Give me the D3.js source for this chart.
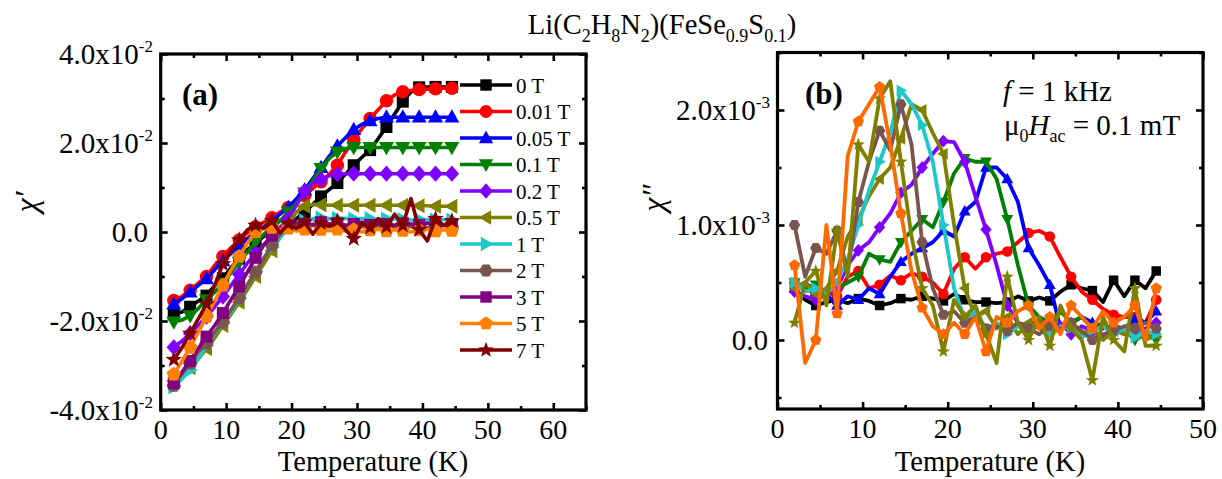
<!DOCTYPE html>
<html>
<head>
<meta charset="utf-8">
<script src="https://cdn.jsdelivr.net/npm/d3@7"></script>
<style>
  body { margin: 0; background: #fff; }
  svg text { font-family: "Liberation Serif", "Times New Roman", Times, serif; fill: #000; }
</style>
</head>
<body>
<svg id="chart" width="1222" height="479" font-family="Liberation Serif, Times New Roman, serif"></svg>
<script>
// Temperature grid shared by every measured curve (K)
const temperature = [2, 3.25, 4.5, 5.75, 7, 8.25, 9.5, 10.75, 12, 13.25, 14.5, 15.75, 17, 18.25,
  19.5, 20.75, 22, 23.25, 24.5, 25.75, 27, 28.25, 29.5, 30.75, 32, 33.25, 34.5, 35.75, 37,
  38.25, 39.5, 40.75, 42, 43.25, 44.5];

// (a) real part chi' in units of 10^-2, one array per applied DC field
const fieldsA = ["0 T", "0.01 T", "0.05 T", "0.1 T", "0.2 T", "0.5 T", "1 T", "2 T", "3 T", "5 T", "7 T"];
const chiReal0T   = [-1.85,-1.80,-1.68,-1.55,-1.43,-1.20,-1.04,-0.80,-0.60,-0.40,-0.25,-0.10,0.00,0.08,0.15,0.30,0.45,0.62,0.80,0.95,1.10,1.30,1.50,1.68,1.84,2.10,2.36,2.65,2.93,3.15,3.25,3.26,3.26,3.26,3.26];
const chiReal001T = [-1.54,-1.45,-1.31,-1.15,-1.00,-0.75,-0.55,-0.35,-0.18,-0.02,0.12,0.22,0.32,0.45,0.55,0.68,0.82,0.98,1.13,1.30,1.50,1.80,2.08,2.32,2.55,2.75,2.95,3.08,3.15,3.18,3.20,3.21,3.22,3.23,3.23];
const chiReal005T = [-1.62,-1.50,-1.35,-1.20,-1.05,-0.85,-0.65,-0.48,-0.30,-0.15,0.00,0.12,0.25,0.40,0.55,0.75,0.95,1.20,1.45,1.70,1.93,2.12,2.30,2.42,2.50,2.55,2.58,2.58,2.58,2.58,2.58,2.58,2.58,2.58,2.58];
const chiReal01T  = [-2.02,-1.98,-1.88,-1.72,-1.52,-1.35,-1.15,-0.92,-0.68,-0.45,-0.22,-0.05,0.10,0.25,0.45,0.65,0.88,1.15,1.43,1.65,1.80,1.87,1.90,1.90,1.90,1.90,1.90,1.90,1.90,1.90,1.90,1.90,1.90,1.90,1.90];
const chiReal02T  = [-2.59,-2.45,-2.28,-2.10,-1.90,-1.68,-1.45,-1.20,-0.95,-0.70,-0.48,-0.28,-0.10,0.10,0.30,0.60,0.92,1.08,1.18,1.26,1.30,1.31,1.31,1.31,1.31,1.31,1.31,1.31,1.31,1.31,1.31,1.31,1.31,1.31,1.31];
const chiReal05T  = [-3.35,-3.20,-3.05,-2.85,-2.62,-2.38,-2.10,-1.85,-1.58,-1.30,-1.00,-0.72,-0.42,-0.12,0.18,0.45,0.58,0.62,0.61,0.60,0.60,0.60,0.60,0.60,0.60,0.60,0.60,0.60,0.60,0.60,0.59,0.59,0.58,0.58,0.58];
const chiReal1T   = [-3.48,-3.30,-3.10,-2.85,-2.55,-2.28,-2.05,-1.80,-1.50,-1.20,-0.88,-0.58,-0.35,-0.12,0.08,0.18,0.25,0.30,0.32,0.30,0.30,0.31,0.29,0.30,0.30,0.28,0.29,0.30,0.28,0.27,0.28,0.28,0.27,0.28,0.27];
const chiReal2T   = [-3.45,-3.18,-2.95,-2.70,-2.50,-2.25,-2.02,-1.75,-1.48,-1.18,-0.90,-0.60,-0.30,-0.05,0.10,0.15,0.12,0.18,0.10,0.15,0.12,0.08,0.16,0.12,0.10,0.14,0.12,0.10,0.15,0.12,0.14,0.10,0.12,0.15,0.12];
const chiReal3T   = [-3.40,-3.15,-2.90,-2.62,-2.35,-2.10,-1.82,-1.52,-1.22,-0.90,-0.58,-0.30,-0.08,0.08,0.15,0.20,0.18,0.15,0.22,0.18,0.20,0.15,0.18,0.22,0.16,0.20,0.18,0.15,0.20,0.18,0.16,0.20,0.18,0.15,0.18];
const chiReal5T   = [-3.20,-2.90,-2.60,-2.25,-1.90,-1.55,-1.20,-0.85,-0.55,-0.25,0.00,0.08,0.10,0.05,0.08,0.02,0.06,0.00,0.05,0.03,0.06,0.02,0.05,0.00,0.04,0.06,0.02,0.05,0.03,0.00,0.04,0.06,0.02,0.05,0.03];
const chiReal7T   = [-2.87,-2.60,-2.28,-1.95,-1.62,-1.20,-0.72,-0.40,-0.18,0.05,0.15,0.08,0.25,-0.02,0.18,0.08,0.22,-0.05,0.20,0.12,0.25,0.05,-0.15,0.20,0.10,0.30,0.12,0.40,0.15,0.75,0.05,-0.20,0.30,0.15,0.25];

// (b) imaginary part chi'' in units of 10^-3
const fieldsB = ["0 T", "0.01 T", "0.05 T", "0.1 T", "0.2 T", "0.5 T", "1 T", "2 T", "3 T", "5 T"];
const chiImag0T   = [0.45,0.35,0.30,0.33,0.35,0.32,0.36,0.34,0.30,0.32,0.36,0.35,0.38,0.36,0.34,0.40,0.35,0.33,0.33,0.32,0.33,0.38,0.34,0.37,0.34,0.42,0.48,0.45,0.43,0.33,0.52,0.38,0.52,0.45,0.60];
const chiImag001T = [0.50,0.45,0.40,0.42,0.38,0.55,0.60,0.45,0.48,0.56,0.52,0.58,0.55,0.50,0.40,0.62,0.72,0.62,0.72,0.75,0.77,0.85,0.93,0.95,0.90,0.72,0.55,0.42,0.35,0.27,0.22,0.20,0.20,0.15,0.35];
const chiImag005T = [0.45,0.50,0.42,0.40,0.30,0.38,0.35,0.45,0.40,0.55,0.68,0.75,0.80,0.85,0.95,0.90,1.12,1.20,1.50,1.50,1.40,1.20,0.80,0.65,0.48,0.10,0.15,0.20,0.15,0.10,0.12,0.10,0.18,0.15,0.25];
const chiImag01T  = [0.50,0.45,0.48,0.40,0.45,0.50,0.55,0.75,0.70,0.68,0.85,0.95,1.05,0.98,1.20,1.45,1.58,1.55,1.55,1.40,1.05,0.65,0.30,0.20,0.15,0.25,0.15,0.20,0.10,0.15,0.05,0.10,0.00,0.05,0.00];
const chiImag02T  = [0.42,0.38,0.35,0.40,0.45,0.65,0.78,0.85,0.98,1.10,1.28,1.35,1.50,1.62,1.73,1.72,1.55,1.25,0.96,0.65,0.30,0.15,0.12,0.18,0.10,0.15,0.05,0.12,0.08,0.02,0.10,0.05,0.08,0.10,0.15];
const chiImag05T  = [0.45,0.50,0.40,0.45,0.60,0.90,1.05,1.25,1.40,1.50,1.75,2.05,2.00,1.80,1.62,1.00,0.45,0.20,0.25,0.10,0.20,0.05,0.15,0.10,0.05,0.10,0.12,0.05,0.10,0.00,0.08,0.05,0.10,0.00,0.05];
const chiImag1T   = [0.50,0.42,0.45,0.40,0.50,0.70,1.00,1.30,1.55,1.80,2.17,2.05,1.87,1.55,1.00,0.45,0.18,0.25,0.10,0.15,0.05,0.12,0.08,0.15,0.05,0.12,0.10,0.02,0.08,0.12,0.05,0.10,0.02,0.08,0.05];
const chiImag2T   = [1.00,0.55,0.80,0.75,0.95,0.60,1.20,1.55,1.82,1.65,2.05,1.70,0.85,0.45,0.22,0.25,0.15,0.20,0.10,0.12,0.08,0.15,0.10,0.05,0.12,0.10,0.15,0.08,0.00,0.05,0.08,0.12,0.10,0.15,0.10];
const chiImag3T   = [0.15,0.50,0.60,0.30,0.95,0.55,1.70,1.55,2.10,2.25,1.55,0.90,0.45,0.30,-0.10,0.35,0.20,0.30,0.05,-0.20,0.55,0.15,0.00,0.20,-0.05,0.30,0.10,0.00,-0.35,0.20,0.00,-0.10,0.45,-0.05,-0.05];
const chiImag5T   = [0.65,-0.20,0.00,1.00,0.23,1.60,1.90,2.05,2.20,1.70,1.10,0.60,0.28,0.12,0.05,0.15,0.05,0.20,-0.10,0.20,0.15,0.25,0.30,0.10,0.20,0.05,0.30,0.20,0.10,0.25,0.15,0.20,0.30,0.00,0.45];

// Axis ticks
const xTicksMajor = [0, 10, 20, 30, 40, 50, 60];
const xTicksMinorA = [5, 15, 25, 35, 45, 55, 65];
const yTicksMajorA = [-4, -2, 0, 2, 4];
const yTicksMinorA = [-3, -1, 1, 3];
const xTicksMajorB = [0, 10, 20, 30, 40, 50];
const xTicksMinorB = [5, 15, 25, 35, 45];
const yTicksMajorB = [0, 1, 2];
const yTicksMinorB = [-0.5, 0.5, 1.5, 2.5];

const SERIF = "'Liberation Serif', 'Times New Roman', Times, serif";

// ---------- marker shapes ----------
function polygon(points) {
  return { draw(ctx, size) {
    const r = Math.sqrt(size) / 2;
    points.forEach(([px, py], i) => i ? ctx.lineTo(px * r, py * r) : ctx.moveTo(px * r, py * r));
    ctx.closePath();
  } };
}
function regular(n, rot, scale) {
  return polygon(d3.range(n).map(k => {
    const a = rot + k * 2 * Math.PI / n;
    return [scale * Math.cos(a), scale * Math.sin(a)];
  }));
}
const shapes = {
  square: polygon([[-1, -1], [1, -1], [1, 1], [-1, 1]]),
  circle: { draw(ctx, size) { const r = Math.sqrt(size) / 2 * 1.12; ctx.moveTo(r, 0); ctx.arc(0, 0, r, 0, 2 * Math.PI); } },
  up: polygon([[0, -1.3], [1.25, 0.9], [-1.25, 0.9]]),
  down: polygon([[0, 1.3], [1.25, -0.9], [-1.25, -0.9]]),
  left: polygon([[-1.3, 0], [0.9, -1.25], [0.9, 1.25]]),
  right: polygon([[1.3, 0], [-0.9, -1.25], [-0.9, 1.25]]),
  diamond: polygon([[0, -1.35], [1.2, 0], [0, 1.35], [-1.2, 0]]),
  hexagon: regular(6, 0, 1.2),
  pentagon: regular(5, -Math.PI / 2, 1.25),
  star: polygon(d3.range(10).map(k => {
    const a = -Math.PI / 2 + k * Math.PI / 5, s = k % 2 ? 0.6 : 1.45;
    return [s * Math.cos(a), s * Math.sin(a)];
  }))
};

const stylesA = [
  { color: "#000000", shape: "square" },
  { color: "#ff0000", shape: "circle" },
  { color: "#0000ff", shape: "up" },
  { color: "#008000", shape: "down" },
  { color: "#8000ff", shape: "diamond" },
  { color: "#808000", shape: "left" },
  { color: "#1ec8c8", shape: "right" },
  { color: "#7a5550", shape: "hexagon" },
  { color: "#800080", shape: "square" },
  { color: "#ff8000", shape: "pentagon" },
  { color: "#800000", shape: "star" }
];
const stylesB = [
  { color: "#000000", shape: "square" },
  { color: "#ff0000", shape: "circle" },
  { color: "#0000ff", shape: "up" },
  { color: "#008000", shape: "down" },
  { color: "#8000ff", shape: "diamond" },
  { color: "#808000", shape: "left" },
  { color: "#1ec8c8", shape: "right" },
  { color: "#7a5550", shape: "hexagon" },
  { color: "#808000", shape: "star" },
  { color: "#ff6a00", shape: "pentagon" }
];

const svg = d3.select("#chart");
function txt(parent, size) {
  return parent.append("text").attr("font-size", size).style("font-family", SERIF);
}

// ---------- scales ----------
const xA = d3.scaleLinear().domain([0, 65]).range([160.7, 586]);
const yA = d3.scaleLinear().domain([-4, 4]).range([410, 54]);
const xB = d3.scaleLinear().domain([0, 50]).range([777.5, 1203]);
const yB = d3.scaleLinear().domain([-0.6, 2.5]).range([409, 52.5]);

function drawFrameAndTicks(x, y, xMaj, xMin, yMaj, yMin) {
  const g = svg.append("g");
  const [x0, x1] = x.range(), [y1, y0] = y.range();
  const mk = (axis, tx, ty, vals, len) => {
    const a = g.append("g").attr("transform", `translate(${tx},${ty})`)
      .call(axis.tickValues(vals).tickSize(len).tickFormat(""));
    a.select(".domain").remove();
    a.selectAll("line").attr("stroke", "#000").attr("stroke-width", 2.6);
  };
  mk(d3.axisBottom(x), 0, y1, xMaj, -7);
  mk(d3.axisBottom(x), 0, y1, xMin, -4);
  mk(d3.axisTop(x), 0, y0, xMaj, -7);
  mk(d3.axisTop(x), 0, y0, xMin, -4);
  mk(d3.axisLeft(y), x0, 0, yMaj, -7);
  mk(d3.axisLeft(y), x0, 0, yMin, -4);
  mk(d3.axisRight(y), x1, 0, yMaj, -7);
  mk(d3.axisRight(y), x1, 0, yMin, -4);
  g.append("rect").attr("x", x0).attr("y", y0).attr("width", x1 - x0).attr("height", y1 - y0)
    .attr("fill", "none").attr("stroke", "#000").attr("stroke-width", 3.2);
  // x tick labels
  xMaj.forEach(d => txt(g, 28).attr("x", x(d)).attr("y", y1 + 29).attr("text-anchor", "middle").text(d));
}

function yLabels(y, xEnd, ticks, exponent, zeroEnd) {
  ticks.forEach(v => {
    const t = txt(svg, 29).attr("y", y(v) + 10).attr("text-anchor", "end");
    if (v === 0) {
      t.attr("x", zeroEnd).text("0.0");
    } else {
      t.attr("x", xEnd);
      t.append("tspan").text(v.toFixed(1) + "x10");
      t.append("tspan").attr("font-size", 17).attr("dy", -12).text(exponent);
    }
  });
}

function drawSeries(x, y, series, styles, size, width) {
  series.forEach((vals, i) => {
    const pts = temperature.map((t, k) => [t, vals[k]]);
    const st = styles[i];
    const g = svg.append("g");
    g.append("path").datum(pts)
      .attr("d", d3.line().x(d => x(d[0])).y(d => y(d[1])))
      .attr("fill", "none").attr("stroke", st.color).attr("stroke-width", width)
      .attr("stroke-linejoin", "round");
    g.selectAll("path.m").data(pts.filter((d, k) => k % 2 === 0)).join("path")
      .attr("class", "m")
      .attr("transform", d => `translate(${x(d[0])},${y(d[1])})`)
      .attr("d", d3.symbol().type(shapes[st.shape]).size(size))
      .attr("fill", st.color);
  });
}

// ---------- panel (a) ----------
drawFrameAndTicks(xA, yA, xTicksMajor, xTicksMinorA, yTicksMajorA, yTicksMinorA);
yLabels(yA, 153, yTicksMajorA, "-2", 148);
drawSeries(xA, yA,
  [chiReal0T, chiReal001T, chiReal005T, chiReal01T, chiReal02T, chiReal05T, chiReal1T, chiReal2T, chiReal3T, chiReal5T, chiReal7T],
  stylesA, 145, 3.6);

// legend
const legend = svg.append("g");
fieldsA.forEach((name, i) => {
  const ly = 85 + i * 26.5, st = stylesA[i];
  legend.append("line").attr("x1", 460).attr("x2", 512).attr("y1", ly).attr("y2", ly)
    .attr("stroke", st.color).attr("stroke-width", 3.6);
  legend.append("path").attr("transform", `translate(486,${ly})`)
    .attr("d", d3.symbol().type(shapes[st.shape]).size(130)).attr("fill", st.color);
  txt(legend, 21).attr("x", 516).attr("y", ly + 7.5).text(name);
});

txt(svg, 31).attr("x", 182).attr("y", 105).attr("font-weight", "bold").text("(a)");
txt(svg, 28.5).attr("x", 373).attr("y", 471).attr("text-anchor", "middle").text("Temperature (K)");
txt(svg, 32).attr("transform", "translate(37,202) rotate(-90)").attr("text-anchor", "middle")
  .attr("font-style", "italic").text("\u03c7\u2032");

// ---------- panel (b) ----------
drawFrameAndTicks(xB, yB, xTicksMajorB, xTicksMinorB, yTicksMajorB, yTicksMinorB);
yLabels(yB, 770, yTicksMajorB, "-3", 768);
drawSeries(xB, yB,
  [chiImag0T, chiImag001T, chiImag005T, chiImag01T, chiImag02T, chiImag05T, chiImag1T, chiImag2T, chiImag3T, chiImag5T],
  stylesB, 90, 3.8);

txt(svg, 31).attr("x", 805).attr("y", 104).attr("font-weight", "bold").text("(b)");
txt(svg, 28.5).attr("x", 990).attr("y", 471).attr("text-anchor", "middle").text("Temperature (K)");
txt(svg, 32).attr("transform", "translate(664,198) rotate(-90)").attr("text-anchor", "middle")
  .attr("font-style", "italic").text("\u03c7\u2033");

const ann1 = txt(svg, 29).attr("x", 1003).attr("y", 101);
ann1.append("tspan").attr("font-style", "italic").text("f");
ann1.append("tspan").text(" = 1 kHz");
const ann2 = txt(svg, 29).attr("x", 1004).attr("y", 135);
ann2.append("tspan").text("\u03bc");
ann2.append("tspan").attr("font-size", 18).attr("dy", 7).text("0");
ann2.append("tspan").attr("font-style", "italic").attr("dy", -7).text("H");
ann2.append("tspan").attr("font-size", 18).attr("dy", 7).text("ac");
ann2.append("tspan").attr("dy", -7).text(" = 0.1 mT");

// ---------- title ----------
const title = txt(svg, 28.5).attr("x", 662).attr("y", 34).attr("text-anchor", "middle");
[["Li(C", 0], ["2", 1], ["H", 0], ["8", 1], ["N", 0], ["2", 1], [")(FeSe", 0], ["0.9", 1], ["S", 0], ["0.1", 1], [")", 0]]
  .forEach(([s, sub], i, arr) => {
    const prevSub = i > 0 && arr[i - 1][1];
    const dy = sub && !prevSub ? 8 : (!sub && prevSub ? -8 : 0);
    const t = title.append("tspan").attr("dy", dy).text(s);
    if (sub) t.attr("font-size", 18);
  });
</script>
</body>
</html>
